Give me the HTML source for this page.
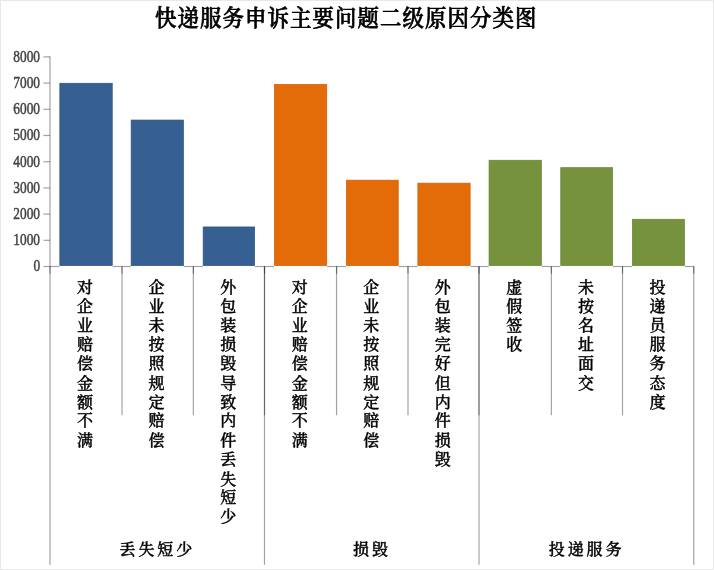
<!DOCTYPE html>
<html lang="zh-CN"><head><meta charset="utf-8"><title>快递服务申诉主要问题二级原因分类图</title>
<style>
html,body{margin:0;padding:0;background:#fff;}
#chart{position:relative;width:714px;height:570px;overflow:hidden;background:#fff;box-sizing:border-box;}
#frame{position:absolute;left:0;top:0;width:712px;height:568px;border:1px solid #e9e9e9;}
.cjk{font-family:"Liberation Serif","Noto Serif CJK SC",serif;color:#000;}
#title{position:absolute;left:-10.5px;top:4px;width:714px;text-align:center;font-size:22.5px;font-weight:500;line-height:30px;white-space:nowrap;-webkit-text-stroke:0.75px #000;}
#title span{display:inline-block;transform:scaleX(0.95);transform-origin:50% 50%;letter-spacing:1.18px;}
.yl{position:absolute;left:0.1px;width:40px;text-align:right;font-family:"Liberation Serif",serif;font-size:16.5px;line-height:20px;height:20px;color:#444;-webkit-text-stroke:0.5px #444;}
.yl span{display:inline-block;transform:scaleX(0.81);transform-origin:100% 50%;}
.vl{position:absolute;top:278.4px;width:24px;text-align:center;word-break:break-all;overflow-wrap:anywhere;font-size:16px;font-weight:500;line-height:19.77px;-webkit-text-stroke:0.42px #000;transform:scaleY(0.97);transform-origin:50% 0;}
.gl{position:absolute;top:538.2px;text-align:center;font-size:16px;font-weight:500;line-height:24px;letter-spacing:2.9px;white-space:nowrap;-webkit-text-stroke:0.42px #000;transform:scaleY(0.96);transform-origin:50% 50%;}
</style></head><body>
<div id="chart">
<div id="frame"></div>
<svg width="714" height="570" viewBox="0 0 714 570" style="position:absolute;left:0;top:0">
<rect x="59.85" y="83.25" width="52.40" height="182.40" fill="#366092" stroke="#2d5282" stroke-width="0.7"/>
<rect x="131.15" y="120.05" width="52.30" height="145.60" fill="#366092" stroke="#2d5282" stroke-width="0.7"/>
<rect x="203.15" y="226.95" width="51.50" height="38.70" fill="#366092" stroke="#2d5282" stroke-width="0.7"/>
<rect x="274.35" y="84.35" width="52.40" height="181.30" fill="#e36c09" stroke="#cf6208" stroke-width="0.7"/>
<rect x="346.35" y="180.15" width="51.90" height="85.50" fill="#e36c09" stroke="#cf6208" stroke-width="0.7"/>
<rect x="417.85" y="183.15" width="52.30" height="82.50" fill="#e36c09" stroke="#cf6208" stroke-width="0.7"/>
<rect x="489.05" y="160.25" width="52.40" height="105.40" fill="#76923c" stroke="#6a8435" stroke-width="0.7"/>
<rect x="560.75" y="167.65" width="51.90" height="98.00" fill="#76923c" stroke="#6a8435" stroke-width="0.7"/>
<rect x="632.35" y="219.25" width="52.20" height="46.40" fill="#76923c" stroke="#6a8435" stroke-width="0.7"/>
<g stroke="#000" stroke-opacity="0.36" stroke-width="1.2" fill="none">
<line x1="50.0" y1="56.3" x2="50.0" y2="266.5"/>
<line x1="43.40" y1="266.5" x2="59.50" y2="266.5"/>
<line x1="112.60" y1="266.5" x2="130.80" y2="266.5"/>
<line x1="183.80" y1="266.5" x2="202.80" y2="266.5"/>
<line x1="255.00" y1="266.5" x2="274.00" y2="266.5"/>
<line x1="327.10" y1="266.5" x2="346.00" y2="266.5"/>
<line x1="398.60" y1="266.5" x2="417.50" y2="266.5"/>
<line x1="470.50" y1="266.5" x2="488.70" y2="266.5"/>
<line x1="541.80" y1="266.5" x2="560.40" y2="266.5"/>
<line x1="613.00" y1="266.5" x2="632.00" y2="266.5"/>
<line x1="684.90" y1="266.5" x2="694.35" y2="266.5"/>
<line x1="43.4" y1="240.30" x2="50.0" y2="240.30"/>
<line x1="43.4" y1="214.10" x2="50.0" y2="214.10"/>
<line x1="43.4" y1="187.90" x2="50.0" y2="187.90"/>
<line x1="43.4" y1="161.70" x2="50.0" y2="161.70"/>
<line x1="43.4" y1="135.50" x2="50.0" y2="135.50"/>
<line x1="43.4" y1="109.30" x2="50.0" y2="109.30"/>
<line x1="43.4" y1="83.10" x2="50.0" y2="83.10"/>
<line x1="43.4" y1="56.90" x2="50.0" y2="56.90"/>
<line x1="50.00" y1="266.5" x2="50.00" y2="564.7"/>
<line x1="50.00" y1="266.5" x2="50.00" y2="273.70"/>
<line x1="122.00" y1="266.5" x2="122.00" y2="415.3"/>
<line x1="122.00" y1="266.5" x2="122.00" y2="273.70"/>
<line x1="193.35" y1="266.5" x2="193.35" y2="415.3"/>
<line x1="193.35" y1="266.5" x2="193.35" y2="273.70"/>
<line x1="264.50" y1="266.5" x2="264.50" y2="564.7"/>
<line x1="264.50" y1="266.5" x2="264.50" y2="415.3"/>
<line x1="264.50" y1="266.5" x2="264.50" y2="273.70"/>
<line x1="336.55" y1="266.5" x2="336.55" y2="415.3"/>
<line x1="336.55" y1="266.5" x2="336.55" y2="273.70"/>
<line x1="408.00" y1="266.5" x2="408.00" y2="415.3"/>
<line x1="408.00" y1="266.5" x2="408.00" y2="273.70"/>
<line x1="479.00" y1="266.5" x2="479.00" y2="564.7"/>
<line x1="479.00" y1="266.5" x2="479.00" y2="415.3"/>
<line x1="479.00" y1="266.5" x2="479.00" y2="273.70"/>
<line x1="551.35" y1="266.5" x2="551.35" y2="415.3"/>
<line x1="551.35" y1="266.5" x2="551.35" y2="273.70"/>
<line x1="622.50" y1="266.5" x2="622.50" y2="415.3"/>
<line x1="622.50" y1="266.5" x2="622.50" y2="273.70"/>
<line x1="693.75" y1="266.5" x2="693.75" y2="564.7"/>
<line x1="693.75" y1="266.5" x2="693.75" y2="273.70"/>
</g></svg>
<div id="title" class="cjk"><span>快递服务申诉主要问题二级原因分类图</span></div>
<div class="yl" style="top:256.40px"><span>0</span></div>
<div class="yl" style="top:230.20px"><span>1000</span></div>
<div class="yl" style="top:204.00px"><span>2000</span></div>
<div class="yl" style="top:177.80px"><span>3000</span></div>
<div class="yl" style="top:151.60px"><span>4000</span></div>
<div class="yl" style="top:125.40px"><span>5000</span></div>
<div class="yl" style="top:99.20px"><span>6000</span></div>
<div class="yl" style="top:73.00px"><span>7000</span></div>
<div class="yl" style="top:46.80px"><span>8000</span></div>
<div class="vl cjk" style="left:73.08px">对企业赔偿金额不满</div>
<div class="vl cjk" style="left:144.62px">企业未按照规定赔偿</div>
<div class="vl cjk" style="left:216.18px">外包装损毁导致内件丢失短少</div>
<div class="vl cjk" style="left:287.72px">对企业赔偿金额不满</div>
<div class="vl cjk" style="left:359.27px">企业未按照规定赔偿</div>
<div class="vl cjk" style="left:430.82px">外包装完好但内件损毁</div>
<div class="vl cjk" style="left:502.38px">虚假签收</div>
<div class="vl cjk" style="left:573.92px">未按名址面交</div>
<div class="vl cjk" style="left:645.47px">投递员服务态度</div>
<div class="gl cjk" style="left:50.00px;width:214.65px">丢失短少</div>
<div class="gl cjk" style="left:264.65px;width:214.65px">损毁</div>
<div class="gl cjk" style="left:479.30px;width:214.65px">投递服务</div>
</div></body></html>
